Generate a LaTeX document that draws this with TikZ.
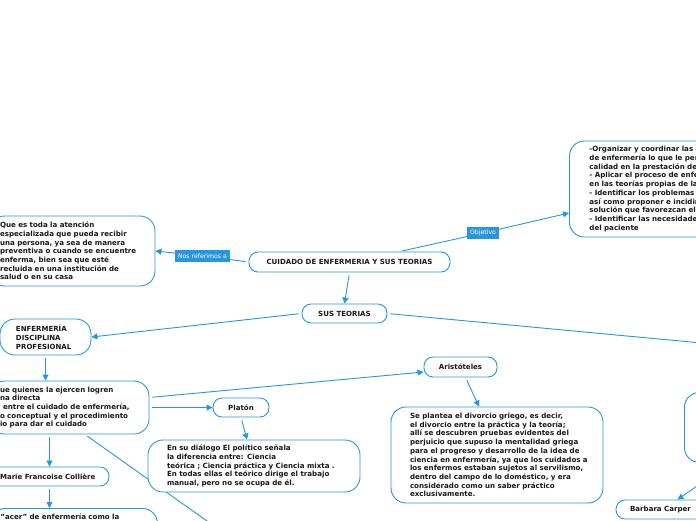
\documentclass[tikz,border=0pt]{standalone}
\usepackage{fontspec}
\setmainfont{DejaVu Sans}
\usetikzlibrary{arrows.meta,calc,backgrounds}
\definecolor{mmblue}{RGB}{40,150,222}
\definecolor{ink}{RGB}{25,25,25}
\begin{document}
\begin{tikzpicture}[x=1pt,y=-1pt,
 every node/.style={inner sep=0pt},
 box/.style={draw=mmblue,line width=0.9pt,fill=white,rounded corners=15pt,align=left,text=ink,font=\bfseries\fontsize{7.1}{8.7}\selectfont},
 tbox/.style={draw=mmblue,line width=0.9pt,fill=white,rounded corners=9pt,text=ink,font=\bfseries\fontsize{7.05}{9}\selectfont},
 lab/.style={fill=mmblue,text=white,font=\fontsize{6.2}{7}\selectfont,inner xsep=3pt,minimum height=12pt},
 conn/.style={draw=mmblue,line width=0.9pt,shorten <=3pt},
 arr/.style={conn,-{Triangle[length=6pt,width=6pt]}}]
\path[use as bounding box,clip] (0,0) rectangle (696,520);

\node[tbox,minimum width=201pt,minimum height=20pt] (cent) at (349.5,262) {CUIDADO DE ENFERMERIA Y SUS TEORIAS};
\node[lab] (nos) at (202.5,256) {Nos referimos a};
\node[box,minimum height=70pt,text width=145pt,inner xsep=10pt] (b1) at (72.5,251) {Que es toda la atención\\especializada que pueda recibir\\una persona, ya sea de manera\\preventiva o cuando se encuentre\\enferma, bien sea que esté\\recluida en una institución de\\salud o en su casa};
\node[lab] (obj) at (483,233) {Objetivo};
\node[box,minimum height=96pt,text width=171pt,inner xsep=20pt,anchor=west] (ob) at (569,189) {-Organizar y coordinar las a\\de enfermería lo que le per\\calidad en la prestación del\\- Aplicar el proceso de enfe\\en las teorías propias de la\\- Identificar los problemas\\así como proponer e incidir\\solución que favorezcan el\\- Identificar las necesidades\\del paciente};
\node[tbox,minimum width=85pt,minimum height=19pt] (sus) at (344.5,313.5) {SUS TEORIAS};
\coordinate (offr) at (760,348.5);
\node[box,font=\bfseries\fontsize{7}{9}\selectfont,minimum height=36pt,text width=59pt,inner xsep=16pt] (enf) at (45.5,337) {ENFERMERÍA\\DISCIPLINA\\PROFESIONAL};
\node[box,minimum height=53pt,text width=139pt,inner xsep=10pt] (b2) at (69.5,407.5) {ue quienes la ejercen logren\\na directa\\\hspace*{3pt}entre el cuidado de enfermería,\\o conceptual y el procedimiento\\io para dar el cuidado};
\node[tbox,minimum width=56pt,minimum height=19pt] (pla) at (241,407.5) {Platón};
\node[tbox,minimum width=73pt,minimum height=20pt] (ari) at (460.5,367) {Aristóteles};
\node[box,minimum height=52pt,text width=174pt,inner xsep=19pt] (plat) at (254,466) {En su diálogo El político señala\\la diferencia entre: Ciencia\\\mbox{teórica ; Ciencia práctica y Ciencia mixta .}\\\mbox{En todas ellas el teórico dirige el trabajo}\\manual, pero no se ocupa de él.};
\node[box,minimum height=96pt,text width=174pt,inner xsep=19pt] (arit) at (497,455) {Se plantea el divorcio griego, es decir,\\el divorcio entre la práctica y la teoría;\\allí se descubren pruebas evidentes del\\\mbox{perjuicio que supuso la mentalidad griega}\\\mbox{para el progreso y desarrollo de la idea de}\\\mbox{ciencia en enfermería, ya que los cuidados a}\\\mbox{los enfermos estaban sujetos al servilismo,}\\dentro del campo de lo doméstico, y era\\considerado como un saber práctico\\exclusivamente.};
\node[tbox,minimum width=119pt,minimum height=19pt,text width=99pt,inner xsep=10pt,align=left] (col) at (49.5,476.5) {Marie Francoise Collière};
\node[box,anchor=north west,text width=147pt,inner xsep=10pt,inner ysep=5pt] (hac) at (-10,508) {"acer" de enfermería como la\\\mbox{}\\\mbox{}};
\node[box,minimum width=92pt,minimum height=70pt,anchor=north west] (r2) at (684,392) {};
\node[tbox,minimum width=89pt,minimum height=19pt] (bar) at (660.5,509.5) {Barbara Carper};
\coordinate (offd) at (230,537.3);

\begin{scope}[on background layer]
\fill[white] (0,0) rectangle (696,520);
\draw[conn] (cent.west) -- (nos.center);
\draw[arr] (nos.center) -- (b1.east);
\draw[conn] ($(cent.north)+(50,0)$) -- (obj.center);
\draw[arr] (obj.center) -- ($(ob.west)+(0,24)$);
\draw[arr] (cent.south) -- (sus.north);
\draw[arr] (sus.west) -- (enf.east);
\draw[conn] (sus.east) -- (offr);
\draw[arr] (enf.south) -- (enf.south |- b2.north);
\draw[arr] (b2.east) -- (pla.west);
\draw[arr] ($(b2.east)+(0,-10)$) -- ($(ari.west)+(0,5)$);
\draw[arr] (pla.south) -- ($(plat.north)+(-7,0)$);
\draw[arr] ($(ari.south)+(5,0)$) -- ($(arit.north)+(-18,0)$);
\draw[arr] (col.north |- b2.south) -- (col.north);
\draw[arr] (col.south) -- (col.south |- hac.north);
\draw[conn] ($(b2.south)+(15.5,0)$) -- (offd);
\draw[arr] (r2.south) -- ($(bar.north)+(17,0)$);
\end{scope}
\end{tikzpicture}
\end{document}
